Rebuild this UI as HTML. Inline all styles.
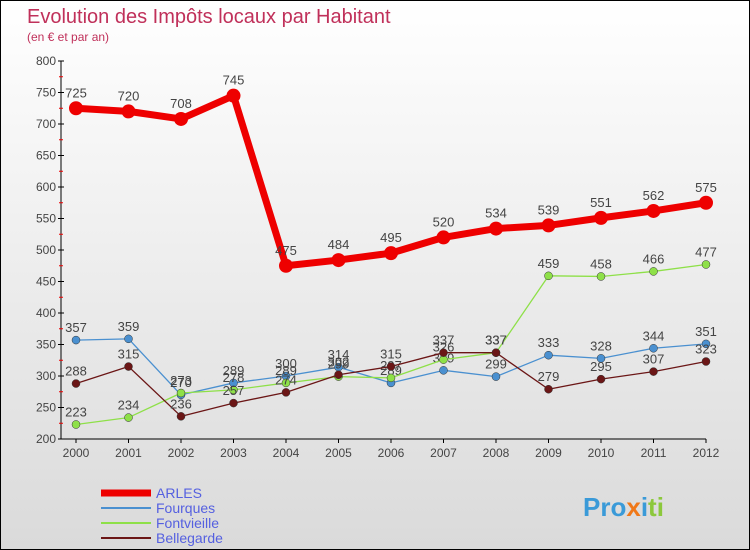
<!DOCTYPE html>
<html><head><meta charset="utf-8"><style>
body{margin:0;}
#c{width:748px;height:548px;border:1px solid #000;background:linear-gradient(#fff,#dadada);position:relative;font-family:"Liberation Sans","DejaVu Sans",sans-serif;overflow:hidden}
</style></head><body>
<div id="c">
<svg id="s" width="748" height="548" xmlns="http://www.w3.org/2000/svg"></svg>
</div>
<script>
const years=[2000,2001,2002,2003,2004,2005,2006,2007,2008,2009,2010,2011,2012];
const arles=[725,720,708,745,475,484,495,520,534,539,551,562,575];
const fourques=[357,359,270,289,300,314,289,309,299,333,328,344,351];
const fontvieille=[223,234,273,278,289,299,297,326,337,459,458,466,477];
const bellegarde=[288,315,236,257,274,302,315,337,337,279,295,307,323];
const yTicks=[200,250,300,350,400,450,500,550,600,650,700,750,800];
const svg=document.getElementById('s');
const NS='http://www.w3.org/2000/svg';
const X=i=>75+i*52.5, Y=v=>438-(v-200)*0.63;
function el(t,a,p){const e=document.createElementNS(NS,t);for(const k in a)e.setAttribute(k,a[k]);(p||svg).appendChild(e);return e;}
let t=el('text',{x:26,y:22,fill:'#c0305a','font-size':20});t.textContent='Evolution des Impôts locaux par Habitant';


t=el('text',{x:26,y:40,fill:'#c0305a','font-size':12});t.textContent='(en € et par an)';


const ax=el('g',{});


el('line',{x1:60,y1:Y(800),x2:60,y2:Y(200),stroke:'#000'},ax);
el('line',{x1:60,y1:Y(200),x2:X(12),y2:Y(200),stroke:'#000'},ax);
yTicks.forEach(v=>{el('line',{x1:57,x2:63,y1:Y(v),y2:Y(v),stroke:'#000'},ax);
 if(v<800)el('line',{x1:58,x2:62,y1:Y(v+25),y2:Y(v+25),stroke:'#e00'},ax);
 const l=el('text',{x:55,y:Y(v)+4,'text-anchor':'end','font-size':12,fill:'#444'},ax);l.textContent=v;});
years.forEach((y,i)=>{el('line',{x1:X(i),x2:X(i),y1:Y(200),y2:Y(200)+4,stroke:'#000'},ax);
 const l=el('text',{x:X(i),y:Y(200)+18,'text-anchor':'middle','font-size':12,fill:'#444'},ax);l.textContent=y;});
function series(d,col,w,r,name){
 const g=el('g',{});
 
 
 el('polyline',{points:d.map((v,i)=>X(i)+','+Y(v)).join(' '),fill:'none',stroke:col,'stroke-width':w,'stroke-linejoin':'round'},g);
 d.forEach((v,i)=>{el('circle',{cx:X(i),cy:Y(v),r:r,fill:col,stroke:w>3?'none':'#333','stroke-width':0.5},g);
  const l=el('text',{x:X(i),y:Y(v)-(w>3?11:8),'text-anchor':'middle','font-size':13,fill:'#444'},g);l.textContent=v;});
}
series(fourques,'#4a90d0',1.3,4,'series-fourques');
series(fontvieille,'#8ee048',1.3,4,'series-fontvieille');
series(bellegarde,'#6b1616',1.3,4,'series-bellegarde');
series(arles,'#ee0000',7,7,'series-arles');
const leg=[['ARLES','#ee0000',7],['Fourques','#4a90d0',2],['Fontvieille','#8ee048',2],['Bellegarde','#6b1616',2]];
leg.forEach((l,i)=>{const g=el('g',{});
 
 
 const y=492+i*15;
 el('line',{x1:100,x2:150,y1:y,y2:y,stroke:l[1],'stroke-width':l[2]},g);
 const tx=el('text',{x:155,y:y+5,'font-size':14,fill:'#5560e0'},g);tx.textContent=l[0];});
const lg=el('text',{x:582,y:515,'font-size':26,'font-weight':'bold',fill:'#f09020'});


lg.innerHTML='<tspan fill="#3a9ad8">Pro</tspan><tspan fill="#f07818">x</tspan><tspan fill="#3a9ad8">i</tspan><tspan fill="#8cc83c">ti</tspan>';
</script>
</body></html>
